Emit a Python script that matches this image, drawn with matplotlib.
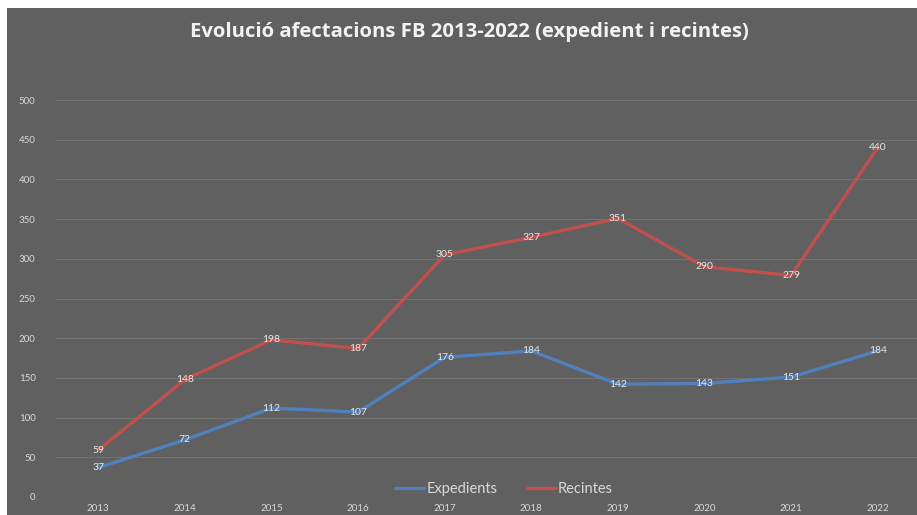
import numpy as np
import matplotlib.pyplot as plt
from matplotlib.patches import Rectangle

# Dades
anys = ["2013", "2014", "2015", "2016", "2017", "2018", "2019", "2020", "2021", "2022"]
expedients = [37, 72, 112, 107, 176, 184, 142, 143, 151, 184]
recintes = [59, 148, 198, 187, 305, 327, 351, 290, 279, 440]

plt.rcParams['font.family'] = ['Lato', 'DejaVu Sans']

W, H = 917, 515
fig = plt.figure(figsize=(W / 100, H / 100), dpi=100, facecolor="white")

# fons del grafic
fons = "#606060"
fig.patches.append(Rectangle((7 / W, 0), 1, (H - 8) / H, transform=fig.transFigure,
                             facecolor=fons, edgecolor="none", zorder=-10))

ax = fig.add_axes([55 / W, 18 / H, (921 - 55) / W, (497 - 100) / H])
ax.patch.set_alpha(0)

x = np.arange(len(anys))
ax.plot(x, expedients, color="#4F81BD", lw=2.4, label="Expedients", solid_capstyle="round", zorder=3)
ax.plot(x, recintes, color="#C0504D", lw=2.4, label="Recintes", solid_capstyle="round", zorder=3)

for xi, v in zip(x, expedients):
    ax.text(xi, v, str(v), ha="center", va="center", fontsize=7.5, color="#E8E8E8", zorder=4)
for xi, v in zip(x, recintes):
    ax.text(xi, v, str(v), ha="center", va="center", fontsize=7.5, color="#E8E8E8", zorder=4)

ax.set_xlim(-0.5, len(anys) - 0.5)
ax.set_ylim(0, 500)
ax.set_yticks(np.arange(0, 501, 50))
ax.set_xticks(x)
ax.set_xticklabels(anys)
ax.yaxis.grid(True, color="#727272", lw=0.8)
ax.set_axisbelow(True)
for s in ax.spines.values():
    s.set_visible(False)
ax.tick_params(length=0, colors="#D9D9D9", labelsize=7)
ax.tick_params(axis="y", pad=14)
ax.tick_params(axis="x", pad=5)

leg = ax.legend(loc="center", bbox_to_anchor=((504 - 55) / (921 - 55), (497 - 489) / 397),
                ncol=2, frameon=False, fontsize=10.5, handlelength=2.0, handletextpad=0.15,
                columnspacing=2.0)
for t in leg.get_texts():
    t.set_color("#D9D9D9")

fig.text(469 / W, 1 - 32 / H, "Evolució afectacions FB 2013-2022 (expedient i recintes)",
         ha="center", va="center", fontsize=14.6, fontweight="bold", color="#F2F2F2",
         family=["Open Sans", "DejaVu Sans"])

fig.savefig("out.png", dpi=100, facecolor=fig.get_facecolor())
